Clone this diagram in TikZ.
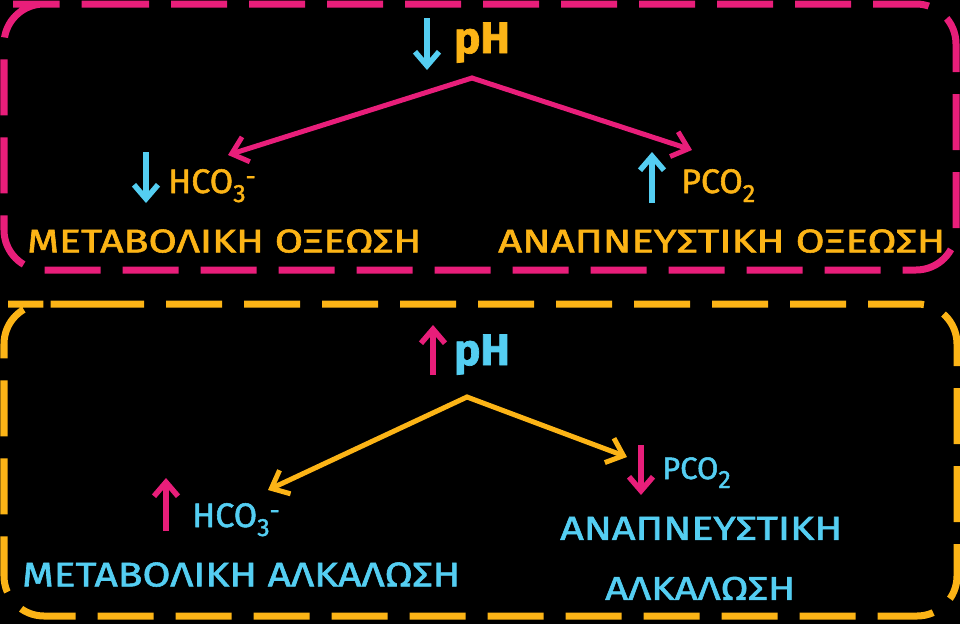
\documentclass[tikz,border=0pt]{standalone}
\usepackage{fontspec}
\setmainfont{Fira Sans}[FakeBold=1.6]
\usetikzlibrary{arrows.meta}
\definecolor{pk}{RGB}{232,30,122}
\definecolor{og}{RGB}{252,180,22}
\definecolor{bl}{RGB}{84,206,242}
\newcommand{\fitt}[3]{\resizebox{#1}{#2}{#3}}
\newcommand{\chem}[3]{#1\raisebox{-9pt}{\fontsize{25}{25}\selectfont #2}\raisebox{8pt}{\fontsize{25}{25}\selectfont #3}}
\begin{document}
\begin{tikzpicture}[x=1pt,y=-1pt,
  box/.style={line width=7pt, dash pattern=on 56pt off 22pt, rounded corners=40pt},
  conn/.style={line width=5pt, line cap=round, -{Straight Barb[length=15pt,width=26pt]}},
  vert/.style={line width=5.5pt, -{Straight Barb[length=14pt,width=24pt]}},
  big/.style={anchor=south west, inner sep=0pt},
  lab/.style={anchor=base west, inner sep=0pt, font=\fontsize{34}{34}\selectfont},
  phl/.style={anchor=base west, inner sep=0pt, font=\fontsize{44}{44}\selectfont\bfseries}]
\fill[black] (0,0) rectangle (960,624);
\useasboundingbox (0,0) rectangle (960,624);
% boxes
\draw[box, pk] (53,4) -- (956,4) -- (956,270) -- (4,270) -- (4,4) -- cycle;
\draw[box, og] (48,304) -- (957,304) -- (957,616) -- (4,616) -- (4,304) -- cycle;
% top section
\node[phl, og] (phT) at (454,53) {pH};
\coordinate (phTa1) at (427,18); \coordinate (phTa2) at (427,70);
\draw[vert, bl] (phTa1) -- (phTa2);
\coordinate (t0) at (472,78);
\coordinate (tl) at (228,155);
\coordinate (tr) at (692,150);
\draw[conn, pk] (t0) -- (tl);
\draw[conn, pk] (t0) -- (tr);
\coordinate (hTa1) at (146,152); \coordinate (hTa2) at (146,203);
\draw[vert, bl] (hTa1) -- (hTa2);
\node[lab, og] (hcoT) at (168,193) {\chem{HCO}{3}{-}};
\coordinate (pTa1) at (652,203); \coordinate (pTa2) at (652,152);
\draw[vert, bl] (pTa1) -- (pTa2);
\node[lab, og] (pcoT) at (681,193) {\chem{PCO}{2}{}};
\node[big, og] (metT) at (27,253) {\fitt{394pt}{23pt}{ΜΕΤΑΒΟΛΙΚΗ ΟΞΕΩΣΗ}};
\node[big, og] (resT) at (498,253) {\fitt{447pt}{23pt}{ΑΝΑΠΝΕΥΣΤΙΚΗ ΟΞΕΩΣΗ}};
% bottom section
\node[phl, bl] (phB) at (454,365) {pH};
\coordinate (phBa1) at (433,375); \coordinate (phBa2) at (433,325);
\draw[vert, pk] (phBa1) -- (phBa2);
\coordinate (b0) at (467,397);
\coordinate (bl) at (268,490);
\coordinate (br) at (627,457);
\draw[conn, og] (b0) -- (bl);
\draw[conn, og] (b0) -- (br);
\coordinate (hBa1) at (166,531); \coordinate (hBa2) at (166,478);
\draw[vert, pk] (hBa1) -- (hBa2);
\node[lab, bl] (hcoB) at (192,527) {\chem{HCO}{3}{-}};
\coordinate (pBa1) at (641,445); \coordinate (pBa2) at (641,495);
\draw[vert, pk] (pBa1) -- (pBa2);
\node[lab, bl, font=\fontsize{31}{31}\selectfont] (pcoB) at (662,479) {\chem{PCO}{2}{}};
\node[big, bl] (metB) at (22,587) {\fitt{438pt}{24pt}{ΜΕΤΑΒΟΛΙΚΗ ΑΛΚΑΛΩΣΗ}};
\node[big, bl] (resB1) at (560,540) {\fitt{282pt}{23pt}{ΑΝΑΠΝΕΥΣΤΙΚΗ}};
\node[big, bl] (resB2) at (605,600) {\fitt{190pt}{23pt}{ΑΛΚΑΛΩΣΗ}};
\end{tikzpicture}
\end{document}
